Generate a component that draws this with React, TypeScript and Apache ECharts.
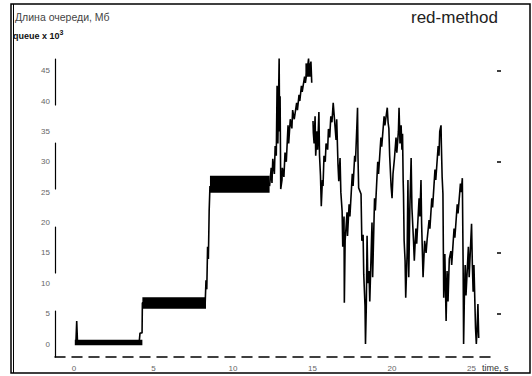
import React, { useEffect, useRef } from "react";
import * as echarts from "echarts";

// Time ticks (s) and queue ticks (x10^3)
const timeTicks = [0, 5, 10, 15, 20, 25];
const queueTicks = [0, 5, 10, 15, 20, 25, 30, 35, 40, 45];
const rightTicks = [5, 15, 30, 45];

// Dense oscillation blocks: [tStart, tEnd, low, high]
const bands = [
  [0.05, 4.3, -0.2, 0.7],
  [4.3, 8.3, 5.8, 7.7],
  [8.55, 12.3, 24.9, 27.7],
  [14.55, 14.9, 44, 46.2],
];

// Step regime trace [t, queue]
const stepTrace = [
  [0.12, 0.3], [0.17, 3.8], [0.22, 0.3], [4.1, 0.3], [4.15, 1.8], [4.28, 1.8], [4.3, 6.8],
  [8.25, 6.8], [8.3, 10.5], [8.35, 9], [8.4, 16], [8.45, 14], [8.5, 22], [8.55, 26],
];

// Ramp after t = 12 s
const rampTrace = [
  [12.3, 26], [12.4, 29], [12.45, 26.5], [12.5, 30.5], [12.6, 28], [12.65, 32.6], [12.72, 31],
  [12.77, 42.5], [12.82, 33], [12.9, 47], [12.93, 35], [12.96, 40.8], [13.0, 25.5], [13.08, 27],
  [13.1, 29], [13.2, 27.5], [13.27, 31.5], [13.35, 30], [13.46, 36], [13.5, 33], [13.6, 37],
  [13.7, 35.5], [13.75, 38.5], [13.85, 37], [14.0, 39.7], [14.05, 38.5], [14.15, 41], [14.2, 40],
  [14.3, 42.5], [14.35, 41.5], [14.5, 44], [14.55, 43], [14.7, 45.8], [14.75, 47], [14.8, 44.5],
  [14.9, 46.5], [14.95, 43],
];

// Chaotic regime after t = 15 s
const chaosTrace = [
  [15.03, 36.7], [15.05, 34.8], [15.1, 33], [15.16, 37.5], [15.2, 31], [15.28, 35], [15.32, 32],
  [15.4, 38.2], [15.44, 31], [15.5, 27.7], [15.55, 22.7], [15.62, 27], [15.66, 26], [15.72, 31],
  [15.8, 30], [15.85, 33], [15.95, 32], [16.0, 35.4], [16.08, 34], [16.15, 37.5], [16.22, 36.5],
  [16.3, 39.7], [16.38, 37], [16.48, 33.6], [16.52, 37], [16.6, 29.6], [16.65, 26.8], [16.73, 30.6],
  [16.78, 25], [16.86, 21.9], [16.9, 16], [16.98, 21], [17.0, 6.8], [17.05, 17], [17.17, 21.7],
  [17.2, 17.8], [17.3, 23], [17.35, 21], [17.5, 28], [17.55, 26], [17.65, 31], [17.7, 30],
  [17.8, 36.7], [17.83, 38.9], [17.86, 30.6], [17.9, 25.7], [18.05, 24.7], [18.1, 17], [18.18, 18],
  [18.22, 11.5], [18.3, 6.3], [18.33, 0], [18.38, 6], [18.43, 17.8], [18.48, 10], [18.55, 12],
  [18.6, 7], [18.74, 20], [18.78, 11], [18.9, 24], [18.95, 22], [19.1, 30], [19.15, 28],
  [19.3, 34], [19.35, 32.5], [19.5, 37.5], [19.55, 36], [19.7, 38.9], [19.75, 36.5], [19.8, 35.5],
  [19.85, 31], [19.94, 26], [20.0, 24], [20.06, 28], [20.15, 30.5], [20.25, 34], [20.3, 31.5],
  [20.4, 35], [20.44, 38.9], [20.5, 33], [20.57, 36], [20.62, 32], [20.66, 34.6], [20.7, 26.8],
  [20.72, 24.7], [20.76, 17], [20.82, 13.7], [20.86, 7.6], [20.95, 15], [21.0, 27], [21.05, 11],
  [21.12, 22.4], [21.2, 30.6], [21.25, 22.4], [21.35, 17], [21.4, 13.7], [21.45, 16.5], [21.5, 19],
  [21.55, 16.5], [21.7, 24], [21.75, 21], [21.82, 27], [21.86, 19.8], [21.95, 11], [22.05, 17],
  [22.14, 15], [22.2, 17], [22.33, 20.4], [22.38, 19], [22.5, 24], [22.55, 22.5], [22.7, 28.7],
  [22.75, 27], [22.9, 32.6], [22.95, 31], [23.0, 35], [23.08, 36], [23.1, 33], [23.15, 27.5],
  [23.2, 24.7], [23.25, 7.6], [23.32, 14.8], [23.4, 3.8], [23.46, 12], [23.52, 7], [23.6, 14],
  [23.7, 15.3], [23.75, 13], [23.9, 19], [23.95, 17.5], [24.1, 23], [24.15, 21.5], [24.3, 26.4],
  [24.35, 25], [24.42, 27.3], [24.47, 13], [24.5, 0], [24.55, 8], [24.6, 13], [24.65, 8],
  [24.8, 16], [24.85, 11], [25.0, 19.8], [25.05, 13], [25.1, 8.6], [25.15, 13], [25.25, 2.6],
  [25.3, 0], [25.35, 2.6], [25.4, 6.6], [25.45, 1],
];

const lineStyle = { color: "#000", width: 1.6 };

export default function App() {
  const ref = useRef<HTMLDivElement>(null);
  useEffect(() => {
    if (!ref.current) return;
    const chart = echarts.init(ref.current, null, { renderer: "svg" });
    const labelFont = { fontFamily: "Liberation Sans, Arial, sans-serif", fontSize: 8, color: "#666" };
    chart.setOption({
      animation: false,
      backgroundColor: "#fff",
      grid: { left: 55, right: 35, top: 50, bottom: 19 },
      xAxis: {
        type: "value",
        min: -1.195,
        max: 26.6,
        splitLine: { show: false },
        axisLine: { onZero: false, lineStyle: { color: "#000", width: 1.5, type: [10, 7] } },
        axisTick: { show: false },
        axisLabel: { ...labelFont, margin: 7, customValues: timeTicks },
      },
      yAxis: [
        {
          type: "value",
          min: -2.14,
          max: 48.4,
          splitLine: { show: false },
          axisLine: { show: true, onZero: false, lineStyle: { color: "#000", width: 1.2, type: [46, 38] } },
          axisTick: { show: false },
          axisLabel: { ...labelFont, margin: 5, customValues: queueTicks },
        },
        {
          type: "value",
          position: "right",
          min: -2.14,
          max: 48.4,
          splitLine: { show: false },
          axisLine: { show: false, onZero: false },
          axisTick: { show: true, customValues: rightTicks, length: 4, inside: false, lineStyle: { color: "#000", width: 1.5 } },
          axisLabel: { show: false },
        },
      ],
      series: [
        {
          type: "custom",
          encode: { x: [0, 1], y: [2, 3] },
          data: bands,
          renderItem: (params: any, api: any) => {
            const p0 = api.coord([api.value(0), api.value(3)]);
            const p1 = api.coord([api.value(1), api.value(2)]);
            return {
              type: "rect",
              shape: { x: p0[0], y: p0[1], width: p1[0] - p0[0], height: p1[1] - p0[1] },
              style: { fill: "#000" },
            };
          },
        },
        { type: "line", data: stepTrace, symbol: "none", lineStyle },
        { type: "line", data: rampTrace, symbol: "none", lineStyle },
        { type: "line", data: chaosTrace, symbol: "none", lineStyle },
      ],
      graphic: [
        { type: "rect", shape: { x: 11, y: 4, width: 519, height: 369 }, style: { fill: "none", stroke: "#000", lineWidth: 1.5 } },
        { type: "line", shape: { x1: 13.5, y1: 4, x2: 13.5, y2: 373 }, style: { stroke: "#000", lineWidth: 1 } },
        {
          type: "text", left: 15, top: 11,
          style: { text: "Длина очереди, Мб", font: "10.5px 'Liberation Sans', Arial, sans-serif", fill: "#444" },
        },
        {
          type: "text", left: 13, top: 29,
          style: {
            text: "{a|queue x 10}{b|3}",
            rich: {
              a: { font: "bold 9px 'Liberation Sans', Arial, sans-serif", fill: "#111", verticalAlign: "bottom" },
              b: { font: "bold 7px 'Liberation Sans', Arial, sans-serif", fill: "#111", verticalAlign: "top", padding: [0, 0, 4, 0] },
            },
          },
        },
        {
          type: "text", left: 411, top: 9,
          style: { text: "red-method", font: "17px 'Liberation Sans', Arial, sans-serif", fill: "#222" },
        },
        {
          type: "text", left: 482, top: 363,
          style: { text: "time, s", font: "9px 'Liberation Sans', Arial, sans-serif", fill: "#333" },
        },
      ],
    });
    return () => chart.dispose();
  }, []);
  return <div ref={ref} style={{ position: "fixed", left: 0, top: 0, width: 532, height: 376 }} />;
}
